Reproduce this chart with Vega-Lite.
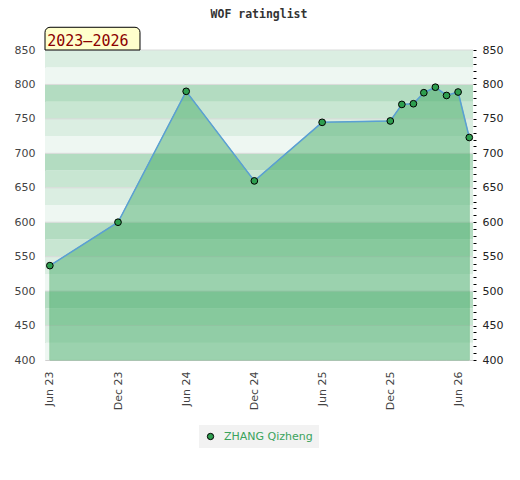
{
  "$schema": "https://vega.github.io/schema/vega-lite/v6.json",
  "description": "WOF ratinglist, ZHANG Qizheng 2023-2026",
  "width": 428,
  "height": 310,
  "autosize": {"type": "none"},
  "padding": {"left": 45, "top": 50, "right": 47, "bottom": 120},
  "background": "#ffffff",
  "title": {
    "text": "WOF ratinglist",
    "font": "DejaVu Sans Mono",
    "fontSize": 11.5,
    "fontWeight": "bold",
    "color": "#333333",
    "anchor": "middle",
    "offset": 6
  },
  "datasets": {
    "bands": [
      {"lo": 400, "hi": 425, "shade": "a"},
      {"lo": 425, "hi": 450, "shade": "b"},
      {"lo": 450, "hi": 475, "shade": "c"},
      {"lo": 475, "hi": 500, "shade": "d"},
      {"lo": 500, "hi": 525, "shade": "a"},
      {"lo": 525, "hi": 550, "shade": "b"},
      {"lo": 550, "hi": 575, "shade": "c"},
      {"lo": 575, "hi": 600, "shade": "d"},
      {"lo": 600, "hi": 625, "shade": "a"},
      {"lo": 625, "hi": 650, "shade": "b"},
      {"lo": 650, "hi": 675, "shade": "c"},
      {"lo": 675, "hi": 700, "shade": "d"},
      {"lo": 700, "hi": 725, "shade": "a"},
      {"lo": 725, "hi": 750, "shade": "b"},
      {"lo": 750, "hi": 775, "shade": "c"},
      {"lo": 775, "hi": 800, "shade": "d"},
      {"lo": 800, "hi": 825, "shade": "a"},
      {"lo": 825, "hi": 850, "shade": "b"}
    ],
    "grid": [
      {"v": 450}, {"v": 500}, {"v": 550}, {"v": 600}, {"v": 650},
      {"v": 700}, {"v": 750}, {"v": 800}, {"v": 850}
    ],
    "badge": [
      {"label": "2023–2026"}
    ],
    "ratings": [
      {"date": "2023-06-01T00:00:00", "rating": 537, "player": "ZHANG Qizheng"},
      {"date": "2023-12-01T00:00:00", "rating": 600, "player": "ZHANG Qizheng"},
      {"date": "2024-06-01T00:00:00", "rating": 790, "player": "ZHANG Qizheng"},
      {"date": "2024-12-01T00:00:00", "rating": 660, "player": "ZHANG Qizheng"},
      {"date": "2025-06-01T00:00:00", "rating": 745, "player": "ZHANG Qizheng"},
      {"date": "2025-12-01T00:00:00", "rating": 747, "player": "ZHANG Qizheng"},
      {"date": "2026-01-01T00:00:00", "rating": 771, "player": "ZHANG Qizheng"},
      {"date": "2026-02-01T00:00:00", "rating": 772, "player": "ZHANG Qizheng"},
      {"date": "2026-03-01T00:00:00", "rating": 788, "player": "ZHANG Qizheng"},
      {"date": "2026-04-01T00:00:00", "rating": 796, "player": "ZHANG Qizheng"},
      {"date": "2026-05-01T00:00:00", "rating": 784, "player": "ZHANG Qizheng"},
      {"date": "2026-06-01T00:00:00", "rating": 789, "player": "ZHANG Qizheng"},
      {"date": "2026-07-01T00:00:00", "rating": 723, "player": "ZHANG Qizheng"}
    ]
  },
  "layer": [
    {
      "data": {"name": "bands"},
      "mark": {"type": "rect"},
      "encoding": {
        "y": {
          "field": "lo",
          "type": "quantitative",
          "scale": {"domain": [400, 850], "zero": false, "nice": false},
          "axis": {
            "orient": "left",
            "title": null,
            "values": [400, 450, 500, 550, 600, 650, 700, 750, 800, 850],
            "ticks": false,
            "grid": false,
            "domainColor": "#d0d0d0",
            "labelFont": "DejaVu Sans",
            "labelFontSize": 11,
            "labelColor": "#444444",
            "labelPadding": 10,
            "labelFlush": false
          }
        },
        "y2": {"field": "hi"},
        "fill": {
          "field": "shade",
          "type": "nominal",
          "legend": null,
          "scale": {
            "domain": ["a", "b", "c", "d"],
            "range": ["#eef7f2", "#dbeee2", "#c8e6d2", "#b3dcc1"]
          }
        }
      }
    },
    {
      "data": {"name": "grid"},
      "mark": {"type": "rule", "color": "#dadada", "strokeWidth": 1},
      "encoding": {
        "y": {"field": "v", "type": "quantitative", "axis": null}
      }
    },
    {
      "data": {"name": "ratings"},
      "mark": {
        "type": "area",
        "color": "#39a75e",
        "opacity": 0.45,
        "stroke": "#2e9e4f",
        "strokeWidth": 1,
        "strokeOpacity": 1
      },
      "encoding": {
        "x": {
          "field": "date",
          "type": "temporal",
          "title": null,
          "scale": {
            "domain": [
              {"year": 2023, "month": 5, "date": 19},
              {"year": 2026, "month": 7, "date": 11}
            ]
          },
          "axis": {
            "values": [
              {"year": 2023, "month": 6, "date": 1},
              {"year": 2023, "month": 12, "date": 1},
              {"year": 2024, "month": 6, "date": 1},
              {"year": 2024, "month": 12, "date": 1},
              {"year": 2025, "month": 6, "date": 1},
              {"year": 2025, "month": 12, "date": 1},
              {"year": 2026, "month": 6, "date": 1}
            ],
            "format": "%b %y"
          }
        },
        "y": {"field": "rating", "type": "quantitative", "axis": null},
        "y2": {"datum": 400}
      }
    },
    {
      "data": {"name": "ratings"},
      "mark": {"type": "line", "color": "#5a9fd4", "strokeWidth": 1.5},
      "encoding": {
        "x": {"field": "date", "type": "temporal", "title": null},
        "y": {
          "field": "rating",
          "type": "quantitative",
          "axis": {
            "orient": "right",
            "title": null,
            "values": [400, 410, 420, 430, 440, 450, 460, 470, 480, 490, 500, 510, 520, 530, 540, 550, 560, 570, 580, 590, 600, 610, 620, 630, 640, 650, 660, 670, 680, 690, 700, 710, 720, 730, 740, 750, 760, 770, 780, 790, 800, 810, 820, 830, 840, 850],
            "labelExpr": "datum.value % 50 === 0 ? datum.label : ''",
            "domain": false,
            "grid": false,
            "ticks": true,
            "tickSize": 3,
            "tickColor": "#000000",
            "labelFont": "DejaVu Sans",
            "labelFontSize": 11,
            "labelColor": "#222222",
            "labelPadding": 6,
            "labelFlush": false,
            "labelOverlap": false
          }
        }
      }
    },
    {
      "data": {"name": "ratings"},
      "mark": {
        "type": "point",
        "filled": true,
        "size": 45,
        "stroke": "#000000",
        "strokeWidth": 1,
        "opacity": 1
      },
      "encoding": {
        "x": {"field": "date", "type": "temporal", "title": null},
        "y": {"field": "rating", "type": "quantitative", "axis": null},
        "color": {
          "field": "player",
          "type": "nominal",
          "scale": {"domain": ["ZHANG Qizheng"], "range": ["#2e9e4f"]},
          "legend": {
            "title": null,
            "orient": "none",
            "legendX": 154,
            "legendY": 375,
            "fillColor": "#f2f2f2",
            "padding": 6,
            "symbolType": "circle",
            "symbolSize": 40,
            "symbolStrokeColor": "#000000",
            "symbolStrokeWidth": 1,
            "labelFont": "DejaVu Sans",
            "labelFontSize": 11,
            "labelColor": "#3aa35c",
            "labelOffset": 8
          }
        }
      }
    },
    {
      "data": {"name": "badge"},
      "mark": {
        "type": "rect",
        "fill": "#ffffcc",
        "stroke": "#000000",
        "strokeWidth": 1,
        "cornerRadiusTopLeft": 5,
        "cornerRadiusTopRight": 5
      },
      "encoding": {
        "x": {"datum": {"year": 2023, "month": 5, "date": 19}, "type": "temporal", "title": null},
        "x2": {"datum": {"year": 2024, "month": 1, "date": 29}},
        "y": {"datum": 850, "type": "quantitative", "axis": null},
        "y2": {"datum": 883}
      }
    },
    {
      "data": {"name": "badge"},
      "mark": {
        "type": "text",
        "font": "DejaVu Sans Mono",
        "fontSize": 15,
        "color": "#8b0000",
        "align": "left",
        "baseline": "alphabetic",
        "dy": -4
      },
      "encoding": {
        "text": {"field": "label"},
        "x": {"datum": {"year": 2023, "month": 5, "date": 25}, "type": "temporal", "title": null},
        "y": {"datum": 850, "type": "quantitative", "axis": null}
      }
    }
  ],
  "resolve": {"axis": {"y": "independent"}},
  "config": {
    "view": {"stroke": null},
    "axisX": {
      "labelAngle": 270,
      "ticks": false,
      "grid": false,
      "domainColor": "#d0d0d0",
      "labelFont": "DejaVu Sans",
      "labelFontSize": 11,
      "labelColor": "#444444",
      "labelPadding": 11,
      "labelFlush": false,
      "labelOverlap": false,
      "zindex": 1
    }
  }
}
